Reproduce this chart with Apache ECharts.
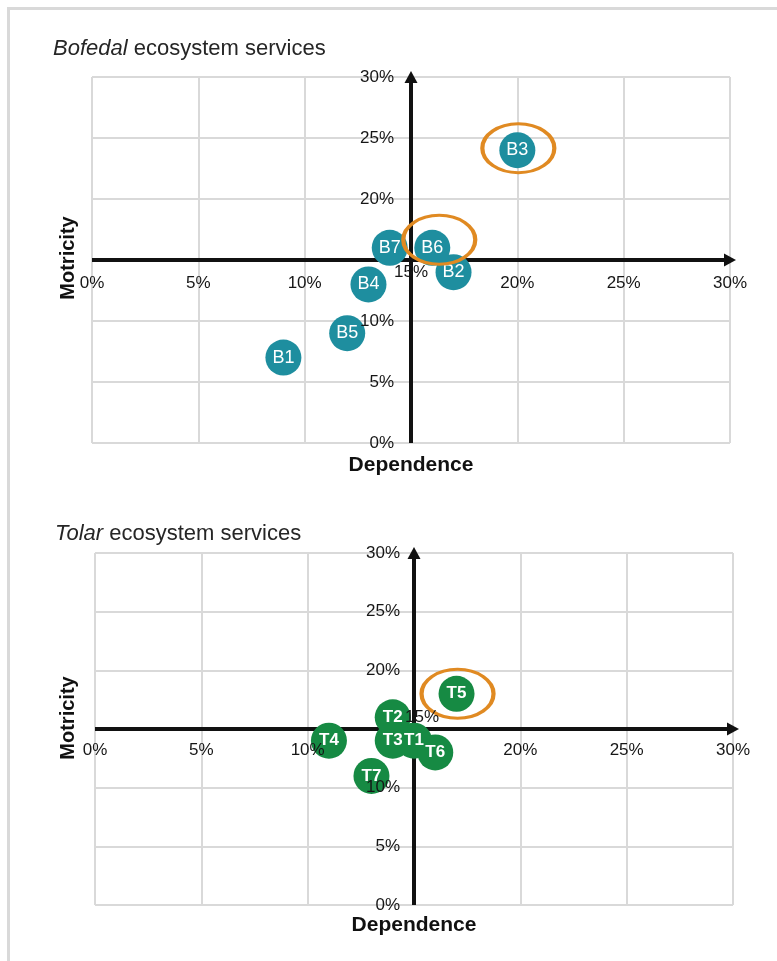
<!DOCTYPE html>
<html><head><meta charset="utf-8">
<script src="https://cdn.jsdelivr.net/npm/echarts@6/dist/echarts.min.js"></script>
<style>html,body{margin:0;padding:0;background:#fff}#c{width:777px;height:961px}</style>
</head><body><div id="c"></div>
<script>
// ---- data ----
const bofedalNames = ['B1','B2','B3','B4','B5','B6','B7'];
const bofedalDependence = [9, 17, 20, 13, 12, 16, 14];
const bofedalMotricity  = [7, 14, 24, 13, 9, 16, 16];
const bofedalHighlighted = ['B3','B6'];

const tolarNames = ['T1','T2','T3','T4','T5','T6','T7'];
const tolarDependence = [15, 14, 14, 11, 17, 16, 13];
const tolarMotricity  = [14, 16, 14, 14, 18, 13, 11];
const tolarHighlighted = ['T5'];

const axisMin = 0, axisMax = 30, axisStep = 5, axisCross = 15;
const chartTitles = [['Bofedal',' ecosystem services'], ['Tolar',' ecosystem services']];
const xName = 'Dependence', yName = 'Motricity';

// ---- layout / style ----
const FONT = '"Liberation Sans", Arial, sans-serif';
const grids = [
  {left: 92, top: 77, width: 638, height: 366},
  {left: 95, top: 553, width: 638, height: 352}
];
const bubbleColors = ['#1E8E9F', '#168A43'];
const labelWeights = ['normal', 'bold'];
const ringOffsets = {B3: [1, -2], B6: [7, -8], T5: [1, 0]};
const xNameGaps = [195, 186], yNameGaps = [333, 336];

const sets = [
  {names: bofedalNames, x: bofedalDependence, y: bofedalMotricity, hl: bofedalHighlighted},
  {names: tolarNames, x: tolarDependence, y: tolarMotricity, hl: tolarHighlighted}
];

const pct = v => v === axisCross ? '' : v + '%';
const xAxes = [], yAxes = [], series = [], titles = [];
sets.forEach((s, gi) => {
  const g = grids[gi];
  const base = {type: 'value', gridIndex: gi, min: axisMin, max: axisMax, interval: axisStep};
  xAxes.push(Object.assign({}, base, {
    axisLine: {show: false}, axisTick: {show: false}, axisLabel: {show: false},
    splitLine: {show: true, showMinLine: true, showMaxLine: true, lineStyle: {color: '#d9d9d9', width: 2}}
  }));
  xAxes.push(Object.assign({}, base, {
    position: 'bottom', offset: -g.height / 2, z: 12,
    axisLine: {show: false, onZero: false}, axisTick: {show: false}, splitLine: {show: false},
    axisLabel: {formatter: pct, margin: gi ? 13 : 15, fontSize: 17, color: '#161616', fontFamily: FONT, showMinLabel: true, showMaxLabel: true},
    name: xName, nameLocation: 'middle', nameGap: xNameGaps[gi], nameMoveOverlap: false,
    nameTextStyle: {fontSize: 21, fontWeight: 'bold', color: '#111', fontFamily: FONT}
  }));
  yAxes.push(Object.assign({}, base, {
    axisLine: {show: false}, axisTick: {show: false}, axisLabel: {show: false},
    splitLine: {show: true, showMinLine: true, showMaxLine: true, lineStyle: {color: '#d9d9d9', width: 2}}
  }));
  yAxes.push(Object.assign({}, base, {
    position: 'left', offset: -g.width / 2, z: 12,
    axisLine: {show: false, onZero: false}, axisTick: {show: false}, splitLine: {show: false},
    axisLabel: {formatter: pct, margin: gi ? 14 : 17, fontSize: 17, color: '#161616', fontFamily: FONT, showMinLabel: true, showMaxLabel: true},
    name: yName, nameLocation: 'middle', nameGap: yNameGaps[gi], nameMoveOverlap: false,
    nameTextStyle: {fontSize: 20, fontWeight: 'bold', color: '#111', fontFamily: FONT, padding: gi ? [0, 0, 0, 22] : [0, 0, 0, 4]}
  }));
  const pts = s.names.map((n, i) => ({name: n, value: [s.x[i], s.y[i]]}));
  // axes cross lines
  series.push({
    type: 'scatter', xAxisIndex: gi * 2, yAxisIndex: gi * 2, data: [], silent: true,
    markLine: {
      silent: true, z: 3, animation: false,
      symbol: ['none', 'triangle'], symbolSize: [13, 12],
      label: {show: false},
      lineStyle: {color: '#111', width: 4, type: 'solid', opacity: 1},
      emphasis: {disabled: true},
      data: [{yAxis: axisCross}, {xAxis: axisCross}]
    }
  });
  series.push({
    type: 'scatter', xAxisIndex: gi * 2, yAxisIndex: gi * 2, z: 10,
    symbolSize: 36, animation: false,
    itemStyle: {color: bubbleColors[gi], opacity: 1},
    label: {show: true, position: 'inside', formatter: '{b}', color: '#fff', fontSize: gi ? 17 : 18,
      fontWeight: labelWeights[gi], fontFamily: FONT},
    data: pts
  });
  series.push({
    type: 'scatter', xAxisIndex: gi * 2, yAxisIndex: gi * 2, z: 11, silent: true, animation: false,
    symbol: 'circle', symbolSize: [72, 49],
    itemStyle: {color: 'rgba(0,0,0,0)', borderColor: '#E08A22', borderWidth: 3.5, opacity: 1},
    data: s.hl.map(n => {
      const i = s.names.indexOf(n);
      return {name: n, value: [s.x[i], s.y[i]], symbolOffset: ringOffsets[n] || [0, 0]};
    })
  });
  titles.push({
    text: '{i|' + chartTitles[gi][0] + '}' + chartTitles[gi][1],
    left: gi ? 50 : 48, top: gi ? 518 : 33, padding: 5,
    textStyle: {fontSize: 22, fontWeight: 'normal', color: '#262626', fontFamily: FONT,
      rich: {i: {fontSize: 22, fontStyle: 'italic', color: '#262626', fontFamily: FONT}}}
  });
});

const chart = echarts.init(document.getElementById('c'), null, {renderer: 'canvas'});
chart.setOption({
  animation: false,
  backgroundColor: '#fff',
  title: titles,
  grid: grids.map(g => Object.assign({}, g, {outerBoundsMode: 'none', containLabel: false})),
  xAxis: xAxes, yAxis: yAxes, series: series
});

// frame and the crossing-value labels
const crossPx = [0, 1].map(gi => chart.convertToPixel({xAxisIndex: gi * 2, yAxisIndex: gi * 2}, [axisCross, axisCross]));
const crossShift = [[0, 12], [8, -12]];
chart.setOption({
  graphic: [
    {type: 'rect', left: 6, top: 6, z: 0, shape: {width: 820, height: 1000},
      style: {fill: 'none', stroke: '#d9d9d9', lineWidth: 3}},
  ].concat(crossPx.map((p, gi) => ({
    type: 'text', x: p[0] + crossShift[gi][0], y: p[1] + crossShift[gi][1], z: 100,
    style: {text: axisCross + '%', fontSize: 17, fill: '#161616', fontFamily: FONT, align: 'center', verticalAlign: 'middle'}
  })))
});
</script></body></html>
